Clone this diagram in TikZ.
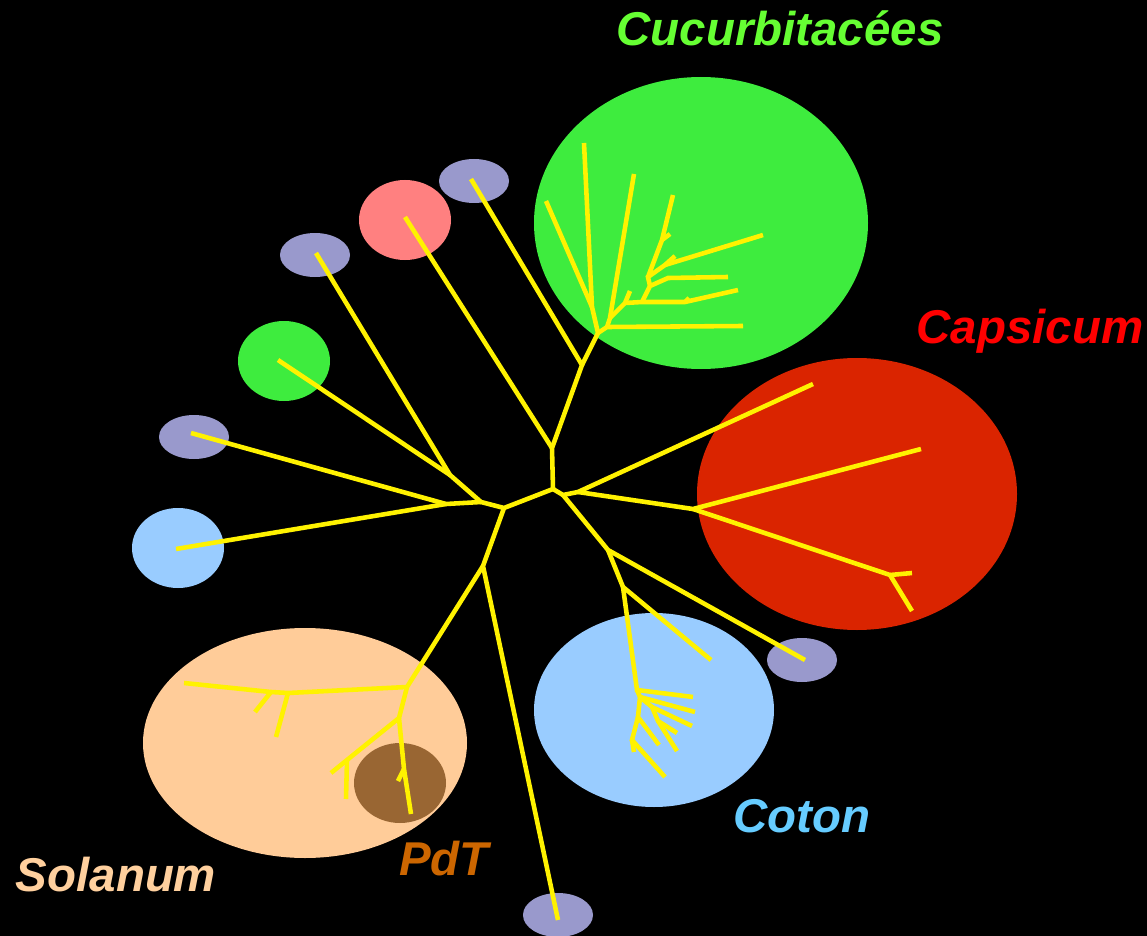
\documentclass[tikz,border=0pt]{standalone}
\usepackage{fontspec}
\setmainfont{Liberation Sans}

\definecolor{cucgreen}{HTML}{3EEC3E}
\definecolor{capred}{HTML}{DA2400}
\definecolor{cotblue}{HTML}{99CCFF}
\definecolor{solpeach}{HTML}{FFCC99}
\definecolor{pdtbrown}{HTML}{996633}
\definecolor{purp}{HTML}{9999CC}
\definecolor{pinkish}{HTML}{FF8080}
\definecolor{cuctext}{HTML}{66FF33}
\definecolor{captext}{HTML}{FF0000}
\definecolor{cottext}{HTML}{66CCFF}
\definecolor{soltext}{HTML}{FFD09E}
\definecolor{pdttext}{HTML}{CC6600}

\tikzset{
  branch/.style = {yellow, line width = 2.6pt},
  tag/.style = {font = \fontsize{27}{31}\selectfont\bfseries\itshape, anchor = base, inner sep = 0pt}
}

\begin{document}
\begin{tikzpicture}[x = 0.02cm, y = -0.02cm]
	 \fill[black] (0, 0) rectangle (1147, 936);
	 \useasboundingbox (0, 0) rectangle (1147, 936);
	 
	 % clades
	 \fill[cucgreen] (701, 223) ellipse (167 and 146);
	 \fill[capred] (857, 494) ellipse (160 and 136);
	 \fill[cotblue] (654, 710) ellipse (120 and 97);
	 \fill[solpeach] (305, 743) ellipse (162 and 115);
	 \fill[pdtbrown] (400, 783) ellipse (46 and 40);
	 
	 % single taxa
	 \fill[purp] (474, 181) ellipse (35 and 22);
	 \fill[purp] (315, 255) ellipse (35 and 22);
	 \fill[purp] (194, 437) ellipse (35 and 22);
	 \fill[purp] (802, 660) ellipse (35 and 22);
	 \fill[purp] (558, 915) ellipse (35 and 22);
	 \fill[pinkish] (405, 220) ellipse (46 and 40);
	 \fill[cucgreen] (284, 361) ellipse (46 and 40);
	 \fill[cotblue] (178, 548) ellipse (46 and 40);
	 
	 % junctions
	 \coordinate (r) at (553, 489);
	 \coordinate (u1) at (552, 448);
	 \coordinate (u2) at (582, 365);
	 \coordinate (cu0) at (598, 333);
	 \coordinate (cu1) at (592, 307);
	 \coordinate (cu2) at (607, 327);
	 \coordinate (cu3) at (610, 318);
	 \coordinate (cu4) at (625, 303);
	 \coordinate (cu5) at (642, 302);
	 \coordinate (cu6) at (685, 302);
	 \coordinate (cu7) at (650, 286);
	 \coordinate (cu8) at (648, 277);
	 \coordinate (cu9) at (668, 278);
	 \coordinate (cu10) at (665, 265);
	 \coordinate (cu11) at (662, 240);
	 \coordinate (k0) at (563, 495);
	 \coordinate (k1) at (578, 492);
	 \coordinate (k2) at (693, 509);
	 \coordinate (k3) at (890, 575);
	 \coordinate (c0) at (608, 550);
	 \coordinate (c1) at (623, 587);
	 \coordinate (c2) at (637, 690);
	 \coordinate (c3) at (640, 697);
	 \coordinate (c4) at (652, 707);
	 \coordinate (c5) at (658, 721);
	 \coordinate (c6) at (638, 717);
	 \coordinate (c7) at (632, 740);
	 \coordinate (m) at (504, 508);
	 \coordinate (n) at (481, 502);
	 \coordinate (o) at (450, 475);
	 \coordinate (p) at (446, 504);
	 \coordinate (q) at (483, 566);
	 \coordinate (s0) at (407, 687);
	 \coordinate (s1) at (288, 693);
	 \coordinate (s2) at (271, 692);
	 \coordinate (s3) at (399, 718);
	 \coordinate (s4) at (347, 760);
	 \coordinate (s5) at (404, 769);
	 
	 % leaves
	 \coordinate (t1) at (471, 179);
	 \coordinate (t2) at (405, 217);
	 \coordinate (t3) at (316, 253);
	 \coordinate (t4) at (278, 360);
	 \coordinate (t5) at (191, 433);
	 \coordinate (t6) at (176, 549);
	 \coordinate (t7) at (558, 920);
	 \coordinate (t8) at (805, 660);
	 
	 % Cucurbitacees
	 \draw[branch] (r) -- (u1) -- (u2) -- (t1);
	 \draw[branch] (u2) -- (cu0) -- (cu1) -- (584, 143);
	 \draw[branch] (cu1) -- (546, 201);
	 \draw[branch] (cu0) -- (cu2) -- (743, 326);
	 \draw[branch] (cu2) -- (cu3) -- (634, 174);
	 \draw[branch] (cu3) -- (cu4) -- (630, 291);
	 \draw[branch] (cu4) -- (cu5) -- (cu6) -- (738, 290);
	 \draw[branch] (cu6) -- (689, 298);
	 \draw[branch] (cu5) -- (cu7) -- (cu9) -- (728, 277);
	 \draw[branch] (cu7) -- (cu8) -- (cu10) -- (763, 235);
	 \draw[branch] (cu10) -- (675, 256);
	 \draw[branch] (cu8) -- (cu11) -- (673, 195);
	 \draw[branch] (cu11) -- (670, 234);
	 
	 % Capsicum
	 \draw[branch] (r) -- (k0) -- (k1) -- (813, 384);
	 \draw[branch] (k1) -- (k2) -- (921, 449);
	 \draw[branch] (k2) -- (k3) -- (912, 611);
	 \draw[branch] (k3) -- (912, 573);
	 
	 % Coton
	 \draw[branch] (k0) -- (c0) -- (t8);
	 \draw[branch] (c0) -- (c1) -- (711, 660);
	 \draw[branch] (c1) -- (c2) -- (693, 697);
	 \draw[branch] (c2) -- (c3) -- (695, 712);
	 \draw[branch] (c3) -- (c4) -- (692, 726);
	 \draw[branch] (c4) -- (c5) -- (677, 751);
	 \draw[branch] (c5) -- (677, 733);
	 \draw[branch] (c3) -- (c6) -- (659, 745);
	 \draw[branch] (c6) -- (c7) -- (665, 777);
	 \draw[branch] (c7) -- (634, 752);
	 
	 % left side
	 \draw[branch] (r) -- (m) -- (n) -- (o) -- (t3);
	 \draw[branch] (o) -- (t4);
	 \draw[branch] (n) -- (p) -- (t5);
	 \draw[branch] (p) -- (t6);
	 \draw[branch] (t2) -- (u1);
	 \draw[branch] (m) -- (q) -- (t7);
	 
	 % Solanum
	 \draw[branch] (q) -- (s0) -- (s1) -- (s2) -- (184, 683);
	 \draw[branch] (s2) -- (255, 712);
	 \draw[branch] (s1) -- (276, 737);
	 \draw[branch] (s0) -- (s3) -- (s4) -- (331, 773);
	 \draw[branch] (s4) -- (346, 799);
	 \draw[branch] (s3) -- (s5) -- (411, 814);
	 \draw[branch] (s5) -- (398, 781);
	 
	 % names
	 \node[tag, text = cuctext] (cuc) at (780, 46) {Cucurbitacées};
	 \node[tag, text = captext] (cap) at (1030, 343) {Capsicum};
	 \node[tag, text = cottext] (cot) at (802, 832) {Coton};
	 \node[tag, text = soltext] (sol) at (116, 891) {Solanum};
	 \node[tag, text = pdttext] (pdt) at (444, 875) {PdT};
\end{tikzpicture}
\end{document}
